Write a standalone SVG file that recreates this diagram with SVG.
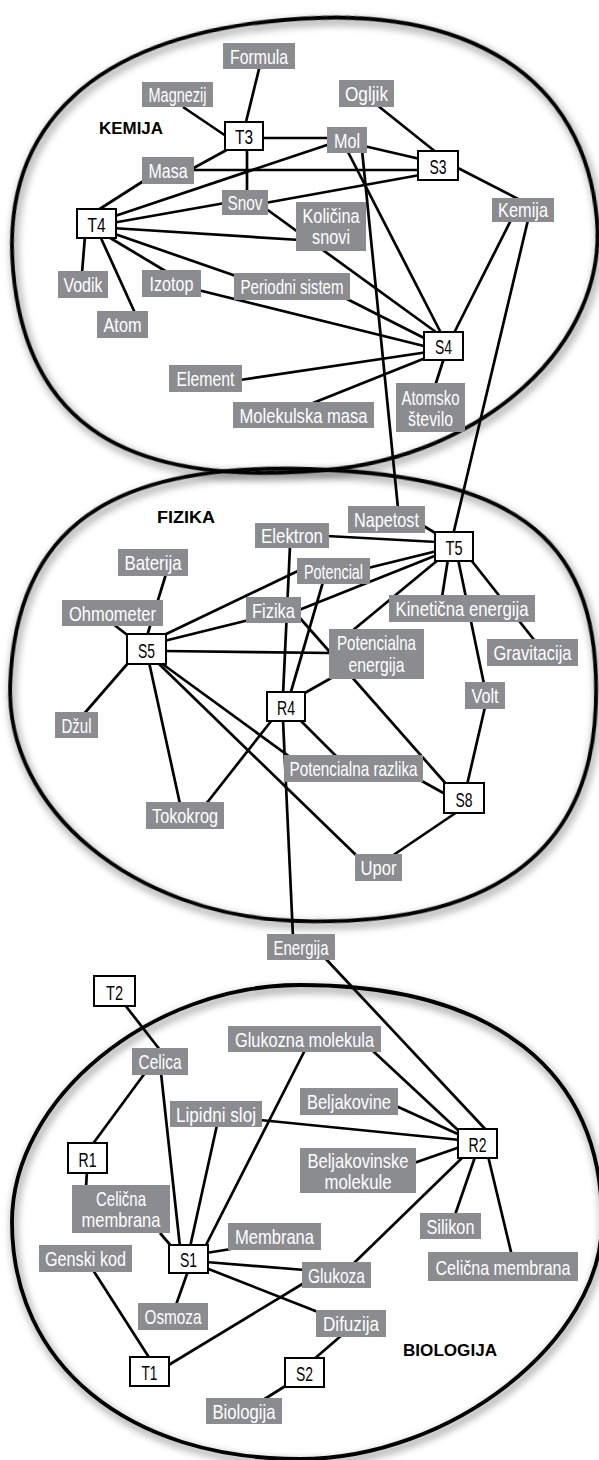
<svg xmlns="http://www.w3.org/2000/svg" width="599" height="1460" viewBox="0 0 599 1460">
<defs>
<filter id="sh" x="-10%" y="-10%" width="120%" height="120%">
<feGaussianBlur in="SourceAlpha" stdDeviation="4"/>
<feOffset dx="2" dy="4" result="b"/>
<feComponentTransfer><feFuncA type="linear" slope="0.6"/></feComponentTransfer>
<feMerge><feMergeNode/><feMergeNode in="SourceGraphic"/></feMerge>
</filter>
<style>
.el{fill:none;stroke:#000;stroke-width:3.8;filter:url(#sh)}
#connectors line{stroke:#000;stroke-width:2.7}
.lb rect{fill:#8b8c90}
.lb text{fill:#fff;font-family:"Liberation Sans",Arial,sans-serif;font-size:21px;text-anchor:middle}
.nd rect{fill:#fff;stroke:#000;stroke-width:2}
.nd text{fill:#000;font-family:"Liberation Sans",Arial,sans-serif;font-size:21px;text-anchor:middle}
.ti{fill:#000;font-family:"Liberation Sans",Arial,sans-serif;font-size:17px;font-weight:bold;text-anchor:middle}
</style>
</defs>
<rect width="599" height="1460" fill="#fff"/>
<g id="regions">
<path class="el" transform="translate(303 695) rotate(2)" d="M293,0 C293,149.2 193.4,226 0,226 C-161.7,226 -293,124.8 -293,0 C-293,-155.9 -202.2,-226 0,-226 C211,-226 293,-162.7 293,0 Z"/>
<path class="el" transform="translate(305 245) rotate(-5)" d="M293,0 C293,124.3 161.2,226 0,226 C-199.2,226 -293,153.7 -293,0 C-293,-146.9 -190.5,-226 0,-226 C184.6,-226 293,-142.4 293,0 Z"/>
<path class="el" transform="translate(300 1222)" d="M302,0 C302,118.5 151,237 0,237 C-172.8,237 -288,142.2 -288,0 C-288,-123.2 -149.8,-237 0,-237 C193.3,-237 302,-151.7 302,0 Z"/>
<text class="ti" x="131" y="134" textLength="64" lengthAdjust="spacingAndGlyphs">KEMIJA</text>
<text class="ti" x="186" y="523" textLength="58" lengthAdjust="spacingAndGlyphs">FIZIKA</text>
<text class="ti" x="450" y="1356" textLength="94" lengthAdjust="spacingAndGlyphs">BIOLOGIJA</text>
</g>
<g id="connectors">
<line x1="260" y1="65" x2="245" y2="126"/>
<line x1="183" y1="107" x2="226" y2="136"/>
<line x1="232" y1="147" x2="190" y2="170"/>
<line x1="260" y1="138" x2="330" y2="138"/>
<line x1="247" y1="148" x2="247" y2="192"/>
<line x1="190" y1="170" x2="420" y2="170"/>
<line x1="145" y1="180" x2="95" y2="212"/>
<line x1="112" y1="217" x2="330" y2="144"/>
<line x1="112" y1="223" x2="225" y2="203"/>
<line x1="112" y1="228" x2="300" y2="240"/>
<line x1="265" y1="208" x2="440" y2="335"/>
<line x1="265" y1="203" x2="420" y2="175"/>
<line x1="364" y1="146" x2="420" y2="159"/>
<line x1="347" y1="150" x2="442" y2="335"/>
<line x1="362" y1="150" x2="398" y2="508"/>
<line x1="377" y1="105" x2="437" y2="153"/>
<line x1="456" y1="167" x2="520" y2="200"/>
<line x1="511" y1="220" x2="453" y2="335"/>
<line x1="528" y1="220" x2="453" y2="535"/>
<line x1="85" y1="236" x2="82" y2="273"/>
<line x1="100" y1="236" x2="135" y2="313"/>
<line x1="107" y1="236" x2="167" y2="272"/>
<line x1="112" y1="233" x2="236" y2="276"/>
<line x1="198" y1="290" x2="428" y2="347"/>
<line x1="345" y1="298" x2="428" y2="340"/>
<line x1="240" y1="380" x2="428" y2="352"/>
<line x1="313" y1="403" x2="428" y2="357"/>
<line x1="444" y1="358" x2="435" y2="386"/>
<line x1="422" y1="525" x2="437" y2="534"/>
<line x1="327" y1="536" x2="437" y2="542"/>
<line x1="368" y1="568" x2="437" y2="551"/>
<line x1="299" y1="610" x2="437" y2="555"/>
<line x1="352" y1="631" x2="438" y2="560"/>
<line x1="442" y1="597" x2="448" y2="559"/>
<line x1="458" y1="559" x2="484" y2="684"/>
<line x1="471" y1="560" x2="535" y2="641"/>
<line x1="290" y1="546" x2="283" y2="695"/>
<line x1="323" y1="582" x2="290" y2="695"/>
<line x1="162" y1="636" x2="300" y2="570"/>
<line x1="164" y1="641" x2="249" y2="620"/>
<line x1="164" y1="651" x2="331" y2="653"/>
<line x1="333" y1="677" x2="303" y2="694"/>
<line x1="299" y1="617" x2="447" y2="785"/>
<line x1="166" y1="574" x2="147" y2="636"/>
<line x1="113" y1="624" x2="130" y2="637"/>
<line x1="83" y1="715" x2="129" y2="662"/>
<line x1="149" y1="662" x2="180" y2="804"/>
<line x1="157" y1="660" x2="290" y2="757"/>
<line x1="157" y1="662" x2="358" y2="857"/>
<line x1="272" y1="720" x2="206" y2="804"/>
<line x1="300" y1="720" x2="337" y2="757"/>
<line x1="283" y1="720" x2="293" y2="937"/>
<line x1="420" y1="780" x2="447" y2="795"/>
<line x1="467" y1="785" x2="485" y2="707"/>
<line x1="457" y1="812" x2="392" y2="856"/>
<line x1="325" y1="958" x2="487" y2="1131"/>
<line x1="125" y1="1005" x2="160" y2="1050"/>
<line x1="145" y1="1073" x2="92" y2="1145"/>
<line x1="161" y1="1073" x2="180" y2="1247"/>
<line x1="217" y1="1125" x2="190" y2="1247"/>
<line x1="305" y1="1050" x2="205" y2="1247"/>
<line x1="260" y1="1120" x2="460" y2="1140"/>
<line x1="373" y1="1051" x2="460" y2="1132"/>
<line x1="396" y1="1106" x2="460" y2="1135"/>
<line x1="414" y1="1163" x2="460" y2="1147"/>
<line x1="462" y1="1158" x2="353" y2="1264"/>
<line x1="304" y1="1283" x2="167" y2="1366"/>
<line x1="475" y1="1157" x2="455" y2="1215"/>
<line x1="488" y1="1156" x2="511.5" y2="1254"/>
<line x1="206" y1="1253" x2="231" y2="1249"/>
<line x1="206" y1="1262" x2="305" y2="1270"/>
<line x1="206" y1="1268" x2="318" y2="1312"/>
<line x1="188" y1="1271" x2="176" y2="1305"/>
<line x1="160" y1="1233" x2="172" y2="1247"/>
<line x1="87" y1="1171" x2="86" y2="1187"/>
<line x1="93" y1="1270" x2="150" y2="1359"/>
<line x1="342" y1="1335" x2="313" y2="1360"/>
<line x1="287" y1="1385" x2="263" y2="1400"/>
</g>
<g id="n-formula" class="lb"><rect x="223" y="43" width="72" height="26"/><text x="259" y="63.5" textLength="58" lengthAdjust="spacingAndGlyphs">Formula</text></g>
<g id="n-magnezij" class="lb"><rect x="142" y="82" width="71" height="25"/><text x="177.5" y="101.5" textLength="58" lengthAdjust="spacingAndGlyphs">Magnezij</text></g>
<g id="n-masa" class="lb"><rect x="142" y="157" width="52" height="27"/><text x="168" y="178" textLength="39" lengthAdjust="spacingAndGlyphs">Masa</text></g>
<g id="n-snov" class="lb"><rect x="222" y="190" width="46" height="25"/><text x="245" y="209.5" textLength="35" lengthAdjust="spacingAndGlyphs">Snov</text></g>
<g id="n-mol" class="lb"><rect x="327" y="127" width="40" height="26"/><text x="347" y="147.5" textLength="26" lengthAdjust="spacingAndGlyphs">Mol</text></g>
<g id="n-ogljik" class="lb"><rect x="339" y="80" width="55" height="27"/><text x="366.5" y="101" textLength="43" lengthAdjust="spacingAndGlyphs">Ogljik</text></g>
<g id="n-kemija" class="lb"><rect x="492" y="198" width="62" height="24"/><text x="523" y="216.5" textLength="50" lengthAdjust="spacingAndGlyphs">Kemija</text></g>
<g id="n-kolicina" class="lb"><rect x="296" y="202" width="70" height="49"/><text x="331" y="223" textLength="57" lengthAdjust="spacingAndGlyphs">Količina</text><text x="331" y="244" textLength="38" lengthAdjust="spacingAndGlyphs">snovi</text></g>
<g id="n-vodik" class="lb"><rect x="58" y="271" width="50" height="27"/><text x="83" y="292" textLength="39" lengthAdjust="spacingAndGlyphs">Vodik</text></g>
<g id="n-atom" class="lb"><rect x="97" y="311" width="51" height="27"/><text x="122.5" y="332" textLength="38" lengthAdjust="spacingAndGlyphs">Atom</text></g>
<g id="n-izotop" class="lb"><rect x="142" y="270" width="59" height="27"/><text x="171.5" y="291" textLength="44" lengthAdjust="spacingAndGlyphs">Izotop</text></g>
<g id="n-periodni" class="lb"><rect x="234" y="273" width="116" height="27"/><text x="292" y="294" textLength="103" lengthAdjust="spacingAndGlyphs">Periodni sistem</text></g>
<g id="n-element" class="lb"><rect x="169" y="365" width="73" height="27"/><text x="205.5" y="386" textLength="58" lengthAdjust="spacingAndGlyphs">Element</text></g>
<g id="n-molekulska" class="lb"><rect x="233" y="402" width="141" height="26"/><text x="303.5" y="422.5" textLength="128" lengthAdjust="spacingAndGlyphs">Molekulska masa</text></g>
<g id="n-atomsko" class="lb"><rect x="396" y="383" width="69" height="49"/><text x="430.5" y="405" textLength="58" lengthAdjust="spacingAndGlyphs">Atomsko</text><text x="430.5" y="426" textLength="45" lengthAdjust="spacingAndGlyphs">število</text></g>
<g id="n-T3" class="nd"><rect x="225" y="122" width="38" height="28"/><text x="244" y="144" textLength="18" lengthAdjust="spacingAndGlyphs">T3</text></g>
<g id="n-T4" class="nd"><rect x="77" y="209" width="39" height="29"/><text x="96.5" y="232" textLength="18" lengthAdjust="spacingAndGlyphs">T4</text></g>
<g id="n-S3" class="nd"><rect x="418" y="151" width="40" height="29"/><text x="438" y="174" textLength="17" lengthAdjust="spacingAndGlyphs">S3</text></g>
<g id="n-S4" class="nd"><rect x="424" y="332" width="39" height="28"/><text x="443.5" y="354" textLength="17" lengthAdjust="spacingAndGlyphs">S4</text></g>
<g id="n-napetost" class="lb"><rect x="348" y="506" width="77" height="27"/><text x="386.5" y="527" textLength="65" lengthAdjust="spacingAndGlyphs">Napetost</text></g>
<g id="n-elektron" class="lb"><rect x="255" y="523" width="74" height="25"/><text x="292" y="542.5" textLength="62" lengthAdjust="spacingAndGlyphs">Elektron</text></g>
<g id="n-potencial" class="lb"><rect x="297" y="558" width="73" height="26"/><text x="333.5" y="578.5" textLength="59" lengthAdjust="spacingAndGlyphs">Potencial</text></g>
<g id="n-baterija" class="lb"><rect x="118" y="549" width="70" height="27"/><text x="153" y="570" textLength="57" lengthAdjust="spacingAndGlyphs">Baterija</text></g>
<g id="n-ohmometer" class="lb"><rect x="62" y="600" width="101" height="26"/><text x="112.5" y="620.5" textLength="87" lengthAdjust="spacingAndGlyphs">Ohmometer</text></g>
<g id="n-fizika" class="lb"><rect x="246" y="597" width="55" height="26"/><text x="273.5" y="617.5" textLength="43" lengthAdjust="spacingAndGlyphs">Fizika</text></g>
<g id="n-kineticna" class="lb"><rect x="389" y="595" width="146" height="27"/><text x="462" y="616" textLength="133" lengthAdjust="spacingAndGlyphs">Kinetična energija</text></g>
<g id="n-potenergija" class="lb"><rect x="329" y="629" width="95" height="50"/><text x="376.5" y="650" textLength="79" lengthAdjust="spacingAndGlyphs">Potencialna</text><text x="376.5" y="672" textLength="56" lengthAdjust="spacingAndGlyphs">energija</text></g>
<g id="n-gravitacija" class="lb"><rect x="487" y="639" width="91" height="27"/><text x="532.5" y="660" textLength="78" lengthAdjust="spacingAndGlyphs">Gravitacija</text></g>
<g id="n-volt" class="lb"><rect x="465" y="682" width="40" height="27"/><text x="485" y="703" textLength="27" lengthAdjust="spacingAndGlyphs">Volt</text></g>
<g id="n-dzul" class="lb"><rect x="55" y="712" width="43" height="26"/><text x="76.5" y="732.5" textLength="30" lengthAdjust="spacingAndGlyphs">Džul</text></g>
<g id="n-tokokrog" class="lb"><rect x="146" y="802" width="78" height="27"/><text x="185" y="823" textLength="66" lengthAdjust="spacingAndGlyphs">Tokokrog</text></g>
<g id="n-potrazlika" class="lb"><rect x="284" y="755" width="139" height="27"/><text x="353.5" y="776" textLength="128" lengthAdjust="spacingAndGlyphs">Potencialna razlika</text></g>
<g id="n-upor" class="lb"><rect x="355" y="854" width="47" height="27"/><text x="378.5" y="875" textLength="36" lengthAdjust="spacingAndGlyphs">Upor</text></g>
<g id="n-energija" class="lb"><rect x="267" y="934" width="68" height="26"/><text x="301" y="954.5" textLength="55" lengthAdjust="spacingAndGlyphs">Energija</text></g>
<g id="n-T5" class="nd"><rect x="435" y="532" width="38" height="29"/><text x="454" y="555" textLength="17" lengthAdjust="spacingAndGlyphs">T5</text></g>
<g id="n-S5" class="nd"><rect x="127" y="634" width="39" height="30"/><text x="146.5" y="658" textLength="17" lengthAdjust="spacingAndGlyphs">S5</text></g>
<g id="n-R4" class="nd"><rect x="267" y="692" width="38" height="29"/><text x="286" y="715" textLength="18" lengthAdjust="spacingAndGlyphs">R4</text></g>
<g id="n-S8" class="nd"><rect x="444" y="783" width="40" height="30"/><text x="464" y="807" textLength="17" lengthAdjust="spacingAndGlyphs">S8</text></g>
<g id="n-celica" class="lb"><rect x="132" y="1048" width="56" height="27"/><text x="160" y="1069" textLength="43" lengthAdjust="spacingAndGlyphs">Celica</text></g>
<g id="n-glukmol" class="lb"><rect x="228" y="1026" width="153" height="26"/><text x="304.5" y="1046.5" textLength="139" lengthAdjust="spacingAndGlyphs">Glukozna molekula</text></g>
<g id="n-lipidni" class="lb"><rect x="170" y="1101" width="92" height="26"/><text x="216" y="1121.5" textLength="80" lengthAdjust="spacingAndGlyphs">Lipidni sloj</text></g>
<g id="n-celmemL" class="lb"><rect x="72" y="1185" width="98" height="48"/><text x="121" y="1206" textLength="50" lengthAdjust="spacingAndGlyphs">Celična</text><text x="121" y="1227" textLength="79" lengthAdjust="spacingAndGlyphs">membrana</text></g>
<g id="n-beljakovine" class="lb"><rect x="300" y="1088" width="98" height="27"/><text x="349" y="1109" textLength="84" lengthAdjust="spacingAndGlyphs">Beljakovine</text></g>
<g id="n-beljmol" class="lb"><rect x="300" y="1148" width="116" height="45"/><text x="358" y="1168" textLength="101" lengthAdjust="spacingAndGlyphs">Beljakovinske</text><text x="358" y="1189" textLength="67" lengthAdjust="spacingAndGlyphs">molekule</text></g>
<g id="n-silikon" class="lb"><rect x="420" y="1213" width="61" height="26"/><text x="450.5" y="1233.5" textLength="48" lengthAdjust="spacingAndGlyphs">Silikon</text></g>
<g id="n-celmemR" class="lb"><rect x="428" y="1252" width="150" height="29"/><text x="503" y="1275" font-size="20" textLength="135" lengthAdjust="spacingAndGlyphs">Celična membrana</text></g>
<g id="n-membrana" class="lb"><rect x="228" y="1223" width="93" height="27"/><text x="274.5" y="1244" textLength="79" lengthAdjust="spacingAndGlyphs">Membrana</text></g>
<g id="n-genski" class="lb"><rect x="39" y="1245" width="93" height="27"/><text x="85.5" y="1266" textLength="81" lengthAdjust="spacingAndGlyphs">Genski kod</text></g>
<g id="n-glukoza" class="lb"><rect x="302" y="1262" width="69" height="26"/><text x="336.5" y="1282.5" textLength="57" lengthAdjust="spacingAndGlyphs">Glukoza</text></g>
<g id="n-osmoza" class="lb"><rect x="138" y="1303" width="70" height="27"/><text x="173" y="1324" textLength="57" lengthAdjust="spacingAndGlyphs">Osmoza</text></g>
<g id="n-difuzija" class="lb"><rect x="316" y="1310" width="70" height="27"/><text x="351" y="1331" textLength="56" lengthAdjust="spacingAndGlyphs">Difuzija</text></g>
<g id="n-biologija" class="lb"><rect x="206" y="1398" width="76" height="26"/><text x="244" y="1418.5" textLength="63" lengthAdjust="spacingAndGlyphs">Biologija</text></g>
<g id="n-T2" class="nd"><rect x="94" y="976" width="41" height="30"/><text x="114.5" y="1000" textLength="17" lengthAdjust="spacingAndGlyphs">T2</text></g>
<g id="n-R1" class="nd"><rect x="68" y="1143" width="39" height="30"/><text x="87.5" y="1167" textLength="18" lengthAdjust="spacingAndGlyphs">R1</text></g>
<g id="n-R2" class="nd"><rect x="458" y="1129" width="39" height="29"/><text x="477.5" y="1152" textLength="18" lengthAdjust="spacingAndGlyphs">R2</text></g>
<g id="n-S1" class="nd"><rect x="169" y="1245" width="39" height="28"/><text x="188.5" y="1267" textLength="17" lengthAdjust="spacingAndGlyphs">S1</text></g>
<g id="n-T1" class="nd"><rect x="130" y="1357" width="39" height="29"/><text x="149.5" y="1380" textLength="16" lengthAdjust="spacingAndGlyphs">T1</text></g>
<g id="n-S2" class="nd"><rect x="285" y="1358" width="39" height="29"/><text x="304.5" y="1381" textLength="17" lengthAdjust="spacingAndGlyphs">S2</text></g>
</svg>
